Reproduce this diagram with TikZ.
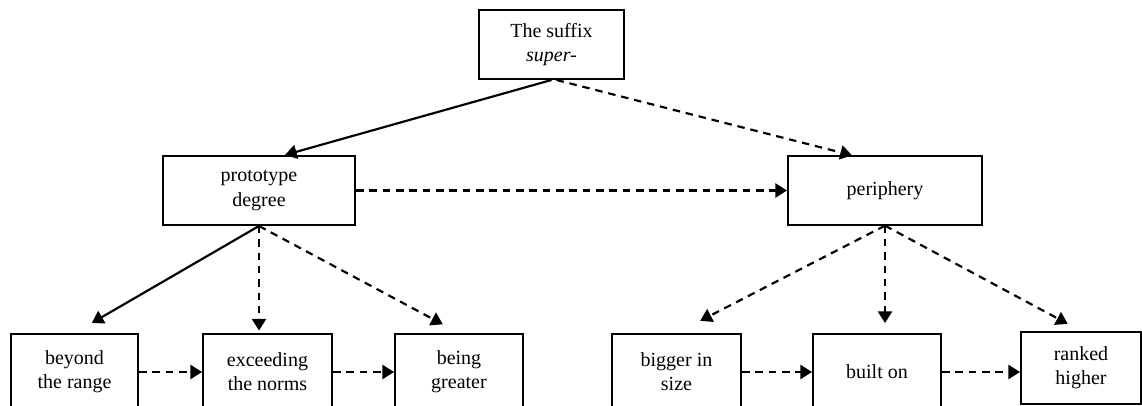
\documentclass[tikz,border=0pt]{standalone}
\usepackage{fontspec}
\setmainfont{Liberation Serif}
\usetikzlibrary{arrows.meta}
\begin{document}
\begin{tikzpicture}[x = 0.6pt, y = -0.6pt,
  box/.style = {draw = black, line width = 1.2pt, align = center, inner sep = 2pt, font = \fontsize{12}{14.5}\selectfont},
  leaf/.style = {box, minimum width = 77pt, minimum height = 45.6pt},
  link/.style = {line width = 1.3pt, -{Triangle[length = 7pt, width = 8.5pt]}},
  dashlink/.style = {link, dash pattern = on 4.5pt off 3.5pt}]
\useasboundingbox (0,0) rectangle (1142,406);
\node[box, minimum width = 87pt, minimum height = 41.4pt] (suffix) at (551.5,44.5) {The suffix\\\textit{super-}};
\node[box, minimum width = 115.2pt, minimum height = 41.4pt] (proto) at (259,190.5) {prototype\\degree};
\node[box, minimum width = 116.4pt, minimum height = 41pt] (periph) at (885,190.5) {periphery};
\node[leaf, minimum width = 76.2pt] (beyond) at (74.5,372) {beyond\\the range};
\node[leaf, minimum width = 77.4pt] (exceeding) at (267.5,372) {exceeding\\the norms};
\node[leaf, minimum width = 76.8pt] (being) at (459,372) {being\\greater};
\node[leaf, minimum width = 77.4pt] (bigger) at (676.5,372) {bigger in\\size};
\node[leaf, minimum width = 76.8pt] (built) at (877,372) {built on};
\node[box, minimum width = 72pt, minimum height = 43.2pt] (ranked) at (1081,368) {ranked\\higher};
\draw[link] (suffix.south) -- ([xshift = 15.6pt]proto.north);
\draw[dashlink] ([xshift = 3pt]suffix.south) -- ([xshift = -19.8pt]periph.north);
\draw[dashlink] (proto) -- (periph);
\draw[link, shorten >= 12pt] (proto.south) -- (beyond.north);
\draw[dashlink, shorten >= 1.5pt] (proto.south) -- (proto.south |- exceeding.north);
\draw[dashlink, shorten >= 6pt] (periph.south) -- (periph.south |- built.north);
\foreach \from/\to/\gap in {proto/being/11pt, periph/bigger/16pt, periph/ranked/9pt}
  \draw[dashlink, shorten >= \gap] (\from.south) -- (\to.north);
\foreach \from/\to in {beyond/exceeding, exceeding/being, bigger/built}
  \draw[dashlink] (\from) -- (\to);
\draw[dashlink] (built) -- (built -| ranked.west);
\end{tikzpicture}
\end{document}
